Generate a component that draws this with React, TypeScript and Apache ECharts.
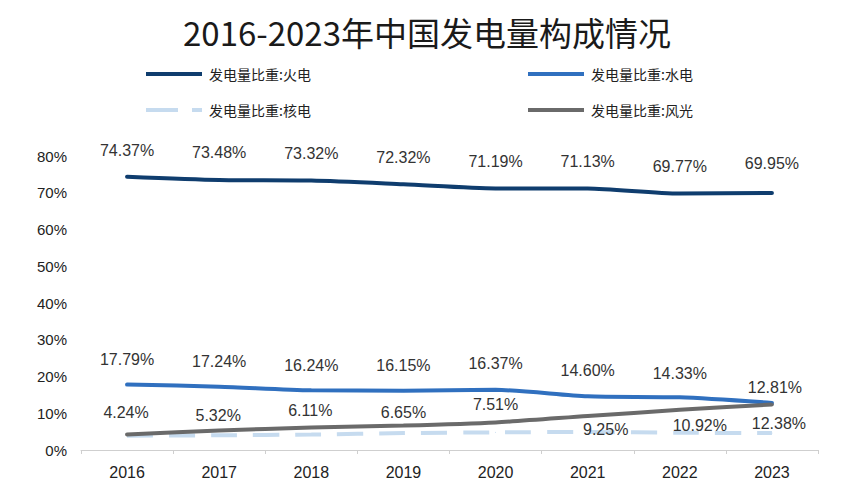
import React, { useEffect, useRef } from "react";
import * as echarts from "echarts";

const titleText = "2016-2023年中国发电量构成情况";
const years = ["2016", "2017", "2018", "2019", "2020", "2021", "2022", "2023"];
const seriesNames = ["发电量比重:火电", "发电量比重:水电", "发电量比重:核电", "发电量比重:风光"];
const thermal = [74.37, 73.48, 73.32, 72.32, 71.19, 71.13, 69.77, 69.95];
const hydro = [17.79, 17.24, 16.24, 16.15, 16.37, 14.6, 14.33, 12.81];
const nuclear = [3.9, 4.0, 4.2, 4.6, 4.8, 4.9, 4.7, 4.6];
const windSolar = [4.24, 5.32, 6.11, 6.65, 7.51, 9.25, 10.92, 12.38];
const yTicks = { min: 0, max: 80, interval: 10 };

// label placement tweaks (style only)
const thermalLabelOffsets = [[0, -26], [0, -27], [0, -27], [0, -27], [0, -27], [0, -27], [0, -27], [0, -29]];
const hydroLabelOffsets = [[0, -25], [0, -25], [0, -25], [0, -25], [0, -26], [0, -26], [0, -24], [3, -15]];
const windLabelOffsets = [[-1, -22], [-1, -15], [-1, -17], [0, -13], [0, -18], [18, 13], [20, 16], [7, 19]];

const labelFont = {
  fontFamily: "Liberation Sans, Arial, sans-serif",
  fontSize: 16,
  color: "#333",
};

const solidIcon = "path://M0,0h56v4h-56z";
const dashIcon = "path://M0,0h32v4h-32zM46,0h10v4h-10z";

function withLabels(values: number[], offsets: number[][] | null) {
  return values.map((v, i) => ({
    value: v,
    label: offsets
      ? { show: true, position: "inside", offset: offsets[i], formatter: (p: any) => p.value.toFixed(2) + "%", ...labelFont }
      : { show: false },
  }));
}

export default function App() {
  const ref = useRef<HTMLDivElement>(null);
  useEffect(() => {
    if (!ref.current) return;
    const chart = echarts.init(ref.current, undefined, { renderer: "svg" });
    const colors = ["#0f3d6e", "#3070bf", "#c6dbef", "#6a6a6a"];
    const legendPos = [
      { left: 141, top: 62 },
      { left: 523, top: 62 },
      { left: 141, top: 98 },
      { left: 523, top: 98 },
    ];
    const legends = seriesNames.map((n, i) => ({
      data: [{ name: n, icon: i === 2 ? dashIcon : solidIcon }],
      left: legendPos[i].left,
      top: legendPos[i].top,
      itemWidth: 56,
      itemHeight: 4,
      itemGap: 5,
      selectedMode: false,
      textStyle: { fontFamily: "Noto Sans CJK SC", fontSize: 14, color: "#222", padding: [0, 0, 0, 2] },
    }));
    const mk = (i: number, data: any[], dashed = false) => ({
      name: seriesNames[i],
      type: "line",
      data,
      smooth: 0.25,
      symbol: "circle",
      symbolSize: 1,
      showSymbol: true,
      itemStyle: { color: colors[i] },
      lineStyle: {
        color: colors[i],
        width: 4,
        type: dashed ? [26, 16] : "solid",
        cap: dashed ? "butt" : "round",
      },
      z: dashed ? 1 : 2,
    });
    chart.setOption({
      animation: false,
      backgroundColor: "#ffffff",
      title: {
        text: titleText,
        left: "center",
        top: 10,
        textStyle: { fontFamily: "Noto Sans CJK SC", fontSize: 33, fontWeight: "normal", color: "#1a1a1a" },
      },
      legend: legends,
      grid: { left: 81, right: 36, top: 156, bottom: 50 },
      xAxis: {
        type: "category",
        data: years,
        boundaryGap: true,
        axisLine: { lineStyle: { color: "#cfcfcf", width: 1 } },
        axisTick: { show: true, length: 4, lineStyle: { color: "#cfcfcf" } },
        axisLabel: { margin: 14, fontFamily: "Liberation Sans, Arial, sans-serif", fontSize: 16, color: "#222" },
      },
      yAxis: {
        type: "value",
        min: yTicks.min,
        max: yTicks.max,
        interval: yTicks.interval,
        splitLine: { show: false },
        axisLine: { show: false },
        axisTick: { show: false },
        axisLabel: {
          margin: 14,
          formatter: "{value}%",
          fontFamily: "Liberation Sans, Arial, sans-serif",
          fontSize: 15,
          color: "#222",
        },
      },
      series: [
        mk(2, withLabels(nuclear, null), true),
        mk(0, withLabels(thermal, thermalLabelOffsets)),
        mk(1, withLabels(hydro, hydroLabelOffsets)),
        mk(3, withLabels(windSolar, windLabelOffsets)),
      ],
    });
    return () => chart.dispose();
  }, []);
  return <div ref={ref} style={{ width: 854, height: 500, position: "absolute", left: 0, top: 0 }} />;
}
